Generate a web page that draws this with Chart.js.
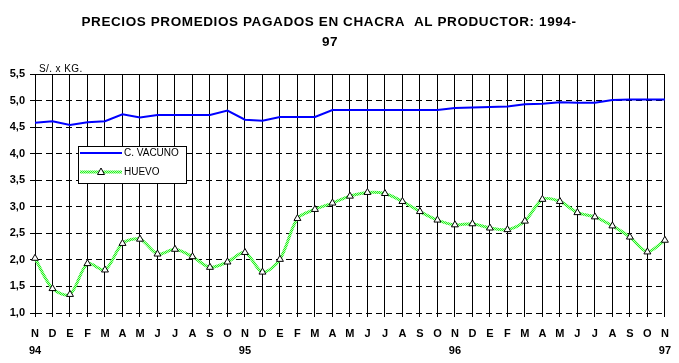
<!DOCTYPE html>
<html>
<head>
<meta charset="utf-8">
<script src="https://cdn.jsdelivr.net/npm/chart.js@4"></script>
<style>
  html, body { margin: 0; padding: 0; background: #fff; }
  #wrap { width: 679px; height: 363px; }
</style>
</head>
<body>
<div id="wrap"><canvas id="chart" width="679" height="363"></canvas></div>
<script>
// months from Nov 1994 to Nov 1997
const months = ['N','D','E','F','M','A','M','J','J','A','S','O',
                'N','D','E','F','M','A','M','J','J','A','S','O',
                'N','D','E','F','M','A','M','J','J','A','S','O','N']
const years = { 0: '94', 12: '95', 24: '96', 36: '97' }

const vacuno = [4.58, 4.61, 4.54, 4.59, 4.61, 4.74, 4.68, 4.73, 4.73, 4.73, 4.73, 4.81,
                4.64, 4.62, 4.69, 4.69, 4.69, 4.82, 4.82, 4.82, 4.82, 4.82, 4.82, 4.82,
                4.86, 4.87, 4.88, 4.89, 4.93, 4.94, 4.97, 4.96, 4.96, 5.01, 5.02, 5.02, 5.02]
const huevo = [2.03, 1.46, 1.35, 1.93, 1.81, 2.31, 2.39, 2.11, 2.20, 2.06, 1.86, 1.96,
               2.14, 1.77, 2.01, 2.78, 2.95, 3.07, 3.20, 3.27, 3.25, 3.10, 2.91, 2.75,
               2.66, 2.68, 2.60, 2.57, 2.73, 3.14, 3.10, 2.89, 2.81, 2.64, 2.43, 2.15, 2.37]

const titleLines = ['PRECIOS PROMEDIOS PAGADOS EN CHACRA  AL PRODUCTOR: 1994-', '97']
const unitLabel = 'S/. x KG.'

const FONT = 'Arial, "Liberation Sans", sans-serif'

// checkered light green like the old excel line
function greenPattern(ctx) {
  const c = document.createElement('canvas')
  c.width = 2; c.height = 2
  const p = c.getContext('2d')
  p.fillStyle = '#b8ffb0'
  p.fillRect(0, 0, 2, 2)
  p.fillStyle = '#22ee22'
  p.fillRect(0, 0, 1, 1)
  p.fillRect(1, 1, 1, 1)
  return ctx.createPattern(c, 'repeat')
}

const canvas = document.getElementById('chart')
const ctx = canvas.getContext('2d')
const green = greenPattern(ctx)

const decorations = {
  id: 'decorations',
  afterDraw(chart) {
    const { ctx, chartArea } = chart
    ctx.save()
    // solid top border
    ctx.strokeStyle = '#000'
    ctx.lineWidth = 1
    ctx.beginPath()
    ctx.moveTo(chartArea.left, chartArea.top + 0.5)
    ctx.lineTo(chartArea.right, chartArea.top + 0.5)
    ctx.stroke()

    // title
    ctx.fillStyle = '#000'
    ctx.textAlign = 'center'
    ctx.textBaseline = 'middle'
    ctx.font = 'bold 13.5px ' + FONT
    ctx.letterSpacing = '0.6px'
    ctx.fillText(titleLines[0], 329, 22)
    ctx.fillText(titleLines[1], 330, 42)
    ctx.letterSpacing = '0px'

    // unit label
    ctx.textAlign = 'left'
    ctx.textBaseline = 'alphabetic'
    ctx.font = '10px ' + FONT
    ctx.letterSpacing = '0.4px'
    ctx.fillText(unitLabel, 39, 72)
    ctx.letterSpacing = '0px'

    // legend box
    const bx = 78, by = 146, bw = 108, bh = 37
    ctx.fillStyle = '#fff'
    ctx.fillRect(bx, by, bw, bh)
    ctx.strokeRect(bx + 0.5, by + 0.5, bw, bh)

    ctx.strokeStyle = '#0000ff'
    ctx.lineWidth = 2
    ctx.beginPath()
    ctx.moveTo(80, 153)
    ctx.lineTo(122, 153)
    ctx.stroke()

    ctx.strokeStyle = green
    ctx.lineWidth = 3
    ctx.beginPath()
    ctx.moveTo(80, 172)
    ctx.lineTo(122, 172)
    ctx.stroke()

    ctx.lineWidth = 1
    ctx.strokeStyle = '#000'
    ctx.fillStyle = '#fff'
    ctx.beginPath()
    ctx.moveTo(101, 168)
    ctx.lineTo(104.5, 174.5)
    ctx.lineTo(97.5, 174.5)
    ctx.closePath()
    ctx.fill()
    ctx.stroke()

    ctx.fillStyle = '#000'
    ctx.textBaseline = 'middle'
    ctx.font = '10px ' + FONT
    ctx.fillText('C. VACUNO', 124, 153)
    ctx.fillText('HUEVO', 124, 172)
    ctx.restore()
  }
}

new Chart(canvas, {
  type: 'line',
  data: {
    labels: months,
    datasets: [{
      label: 'C. VACUNO',
      data: vacuno,
      borderColor: '#0000ff',
      borderWidth: 2,
      pointRadius: 0,
      tension: 0
    }, {
      label: 'HUEVO',
      data: huevo,
      borderColor: green,
      borderWidth: 3,
      tension: 0.3,
      pointStyle: 'triangle',
      pointRadius: 4,
      pointBackgroundColor: '#fff',
      pointBorderColor: '#000',
      pointBorderWidth: 1
    }]
  },
  options: {
    responsive: false,
    animation: false,
    layout: { padding: { top: 74, right: 13, left: 0, bottom: 0 } },
    plugins: {
      legend: { display: false },
      title: { display: false },
      tooltip: { enabled: false }
    },
    scales: {
      x: {
        offset: false,
        afterFit: scale => { scale.height = 50 },
        grid: { color: '#000', lineWidth: 1, offset: false, tickLength: 4, drawTicks: true },
        border: { display: false },
        ticks: {
          autoSkip: false,
          maxRotation: 0,
          padding: 8,
          color: '#000',
          font: { family: FONT, size: 11, weight: 'bold', lineHeight: '17px' },
          callback: (v, i) => years[i] ? [months[i], years[i]] : months[i]
        }
      },
      y: {
        min: 1,
        max: 5.5,
        afterFit: scale => { scale.width = 35 },
        grid: { color: '#000', lineWidth: 1, tickLength: 5 },
        border: {
          display: true,
          color: '#000',
          width: 1,
          dash: c => (c.tick && c.tick.value === 5.5) ? [] : [6, 4]
        },
        ticks: {
          stepSize: 0.5,
          padding: 5,
          color: '#000',
          font: { family: FONT, size: 11, weight: 'bold' },
          callback: v => v.toFixed(1).replace('.', ',')
        }
      }
    }
  },
  plugins: [decorations]
})
</script>
</body>
</html>
